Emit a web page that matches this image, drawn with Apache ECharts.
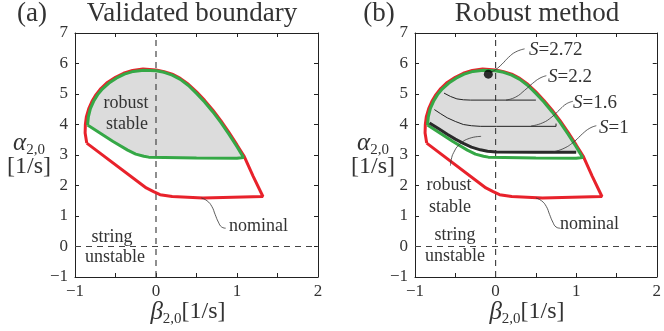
<!DOCTYPE html>
<html><head><meta charset="utf-8">
<script src="https://cdn.jsdelivr.net/npm/echarts/dist/echarts.min.js"></script>
<style>html,body{margin:0;padding:0;background:#fff}#c{width:664px;height:331px}</style>
</head><body><div id="c"></div><script>
// ---- data ----
const redX = [-0.855,-0.875,-0.872,-0.86,-0.83,-0.79,-0.74,-0.68,-0.60,-0.50,-0.40,-0.29,-0.16,0,0.1,0.2,0.3,0.4,0.5,0.6,0.7,0.8,0.9,1.0,1.09,1.2,1.32,1.30,0.58,0.2,0.05,-0.03,-0.12,-0.855];
const redY = [3.39,3.72,4.0,4.25,4.52,4.76,4.98,5.18,5.38,5.55,5.68,5.77,5.82,5.79,5.73,5.65,5.51,5.32,5.07,4.79,4.48,4.13,3.74,3.33,2.95,2.30,1.64,1.60,1.59,1.64,1.70,1.80,1.92,3.39];
const greenUpperX = [-0.845,-0.835,-0.81,-0.77,-0.72,-0.66,-0.58,-0.49,-0.39,-0.28,-0.15,0,0.1,0.2,0.3,0.4,0.5,0.6,0.7,0.8,0.9,1.0,1.08];
const greenUpperY = [3.98,4.25,4.52,4.76,4.98,5.17,5.36,5.52,5.65,5.74,5.78,5.76,5.71,5.62,5.48,5.28,5.02,4.74,4.42,4.07,3.68,3.27,2.92];
const greenLowerX = [1.0,0.5,-0.09,-0.15,-0.25,-0.35,-0.53,-0.845];
const greenLowerY = [2.89,2.90,2.93,2.96,3.03,3.16,3.44,3.98];
const s1X = [-0.82,-0.7,-0.6,-0.5,-0.4,-0.3,-0.19,-0.1,0.01,0.5,1.0];
const s1Y = [4.05,3.85,3.68,3.52,3.38,3.26,3.17,3.12,3.10,3.09,3.09];
const s16X = [-0.76,-0.68,-0.6,-0.5,-0.4,-0.3,-0.19,0.01,0.75,0.75];
const s16Y = [4.49,4.35,4.22,4.10,4.00,3.96,3.94,3.94,3.94,4.03];
const s22X = [-0.64,-0.56,-0.48,-0.4,-0.31,0.5];
const s22Y = [5.03,4.92,4.84,4.81,4.80,4.80];
const sMaxPoint = [-0.09, 5.65];
const sLabels = ['2.72','2.2','1.6','1'];
const lead272X = [-0.07,0.0,0.08,0.16,0.25,0.36], lead272Y = [5.7,5.8,5.98,6.2,6.38,6.48];
const lead22X = [0.13,0.25,0.36,0.46,0.55,0.63], lead22Y = [4.80,4.9,5.12,5.35,5.52,5.6];
const lead16X = [0.44,0.58,0.70,0.80,0.88,0.96], lead16Y = [3.95,4.05,4.25,4.5,4.68,4.76];
const lead1X = [0.71,0.85,0.98,1.08,1.17,1.25], lead1Y = [3.1,3.22,3.45,3.7,3.88,3.96];
const leadRobX = [-0.18,-0.32,-0.45,-0.52,-0.55,-0.56], leadRobY = [3.61,3.55,3.34,3.08,2.85,2.65];
const leadNomAX = [0.56,0.63,0.69,0.73,0.77,0.81,0.86], leadNomAY = [1.59,1.5,1.31,1.05,0.8,0.64,0.6];
const leadNomBX = [0.5,0.57,0.63,0.67,0.71,0.75,0.8], leadNomBY = [1.59,1.5,1.31,1.05,0.8,0.64,0.6];
const xTicks = [-1,0,1,2], yTicks = [-1,0,1,2,3,4,5,6,7];
const xRange = [-1,2], yRange = [-1,7];

// ---- helpers ----
const FONT = 'Liberation Serif';
const TXT = '#333';
const pts = (xs, ys) => xs.map((x,i)=>[x, ys[i]]);
const greenX = greenUpperX.concat(greenLowerX), greenY = greenUpperY.concat(greenLowerY);
const fillA = pts(greenX, greenY);
const fillB = pts(s1X, s1Y).concat(pts(greenUpperX, greenUpperY).reverse());
const fmt = v => (Math.abs(v - Math.round(v)) < 1e-9) ? (v < 0 ? '\u2212' + (-v) : String(v)) : '';

function xAx(g, pos){ return {type:'value', gridIndex:g, position:pos, min:xRange[0], max:xRange[1], interval:0.5,
  axisLine:{show:true,onZero:false,lineStyle:{color:'#222',width:1}},
  axisTick:{show:true,inside:true,length:4,lineStyle:{color:'#222'}}, splitLine:{show:false},
  axisLabel:{show:pos==='bottom', formatter:fmt, fontFamily:FONT, fontSize:17, color:TXT, margin:6}}; }
function yAx(g, pos){ return {type:'value', gridIndex:g, position:pos, min:yRange[0], max:yRange[1], interval:1,
  axisLine:{show:true,onZero:false,lineStyle:{color:'#222',width:1}},
  axisTick:{show:true,inside:true,length:4,lineStyle:{color:'#222'}}, splitLine:{show:false},
  axisLabel:{show:pos==='left', formatter:fmt, fontFamily:FONT, fontSize:17, color:TXT, margin:7}}; }

function line(g, data, color, width, z, extra){ return Object.assign({type:'line', xAxisIndex:2*g, yAxisIndex:2*g, data,
  symbol:'none', showSymbol:false, smooth:false, z, lineStyle:{color, width}, silent:true, animation:false}, extra||{}); }
function fill(g, poly){ return {type:'custom', xAxisIndex:2*g, yAxisIndex:2*g, data:[[0,0]], z:1, silent:true, animation:false,
  renderItem:(p, api)=>({type:'polygon', shape:{points: poly.map(q=>api.coord(q))}, style:{fill:'#dcdcdc'}})}; }

const series = [];
[0,1].forEach(g=>{
  series.push(fill(g, g===0 ? fillA : fillB));
  series.push(line(g, [[0,yRange[0]],[0,yRange[1]]], '#444', 1.2, 2, {lineStyle:{color:'#444',width:1.2,type:[6,5]}}));
  series.push(line(g, [[xRange[0],0],[xRange[1],0]], '#444', 1.2, 2, {lineStyle:{color:'#444',width:1.2,type:[6,5]}}));
  series.push(line(g, pts(redX, redY), '#e8222b', 3, 3));
  series.push(line(g, pts(greenX, greenY).concat([[greenX[0],greenY[0]]]), '#35a846', 3, 4));
  series.push(line(g, g===0 ? pts(leadNomAX, leadNomAY) : pts(leadNomBX, leadNomBY), '#333', 0.8, 5, {smooth:true}));
});
series.push(line(1, pts(s1X, s1Y), '#2a2a2a', 3, 5));
series.push(line(1, pts(s16X, s16Y), '#222', 1, 5));
series.push(line(1, pts(s22X, s22Y), '#222', 1, 5));
[[lead272X,lead272Y],[lead22X,lead22Y],[lead16X,lead16Y],[lead1X,lead1Y],[leadRobX,leadRobY]].forEach(a=>{
  series.push(line(1, pts(a[0], a[1]), '#333', 0.8, 5, {smooth:true}));
});
series.push({type:'scatter', xAxisIndex:2, yAxisIndex:2, data:[sMaxPoint], symbolSize:9, itemStyle:{color:'#000'}, z:6, silent:true, animation:false});

function T(text, x, y, size, align, extra){ return {type:'text', x, y, z:100, silent:true,
  style:Object.assign({text, fontFamily:FONT, fontSize:size, fill:TXT, align:align||'center', verticalAlign:'middle'}, extra||{})}; }
const subRich = (mainSize) => ({
  g:{fontFamily:FONT, fontStyle:'italic', fontSize:mainSize+1, fill:TXT, lineHeight:30, verticalAlign:'middle'},
  s:{fontFamily:FONT, fontSize:15, fill:TXT, lineHeight:15, verticalAlign:'bottom'},
  n:{fontFamily:FONT, fontSize:mainSize, fill:TXT, lineHeight:30, verticalAlign:'middle'}
});
const SR = {i:{fontFamily:FONT, fontStyle:'italic', fontSize:19, fill:TXT}, n:{fontFamily:FONT, fontSize:19, fill:TXT}};
const LS = 18;
const graphic = [
  T('(a)', 32, 14, 27), T('Validated boundary', 192, 14, 27),
  T('(b)', 379, 14, 27), T('Robust method', 537, 14, 27),
  T('robust', 126, 103, LS), T('stable', 127, 124, LS),
  T('string', 112, 237, LS), T('unstable', 115, 257, LS),
  T('nominal', 229, 226, LS, 'left'),
  T('robust', 449, 185, LS), T('stable', 450, 207, LS),
  T('string', 455, 235, LS), T('unstable', 455, 256, LS),
  T('nominal', 560, 224, LS, 'left'),
  T('{i|S}{n|=' + sLabels[0] + '}', 529, 50, 19, 'left', {rich:SR}),
  T('{i|S}{n|=' + sLabels[1] + '}', 548, 77, 19, 'left', {rich:SR}),
  T('{i|S}{n|=' + sLabels[2] + '}', 573, 103, 19, 'left', {rich:SR}),
  T('{i|S}{n|=' + sLabels[3] + '}', 599, 128, 19, 'left', {rich:SR}),
  T('{g|\u03b2}{s|2,0}{n|[1/s]}', 188, 312, 24, 'center', {rich:subRich(24)}),
  T('{g|\u03b2}{s|2,0}{n|[1/s]}', 527, 312, 24, 'center', {rich:subRich(24)}),
  T('{g|\u03b1}{s|2,0}', 29, 143, 24, 'center', {rich:subRich(24)}),
  T('[1/s]', 29, 167, 24),
  T('{g|\u03b1}{s|2,0}', 373, 143, 24, 'center', {rich:subRich(24)}),
  T('[1/s]', 373, 167, 24)
];

const chart = echarts.init(document.getElementById('c'), null, {renderer:'canvas'});
chart.setOption({
  animation:false, backgroundColor:'#fff',
  grid:[{left:75, top:33, width:243, height:244}, {left:415, top:33, width:242, height:244}],
  xAxis:[xAx(0,'bottom'), xAx(0,'top'), xAx(1,'bottom'), xAx(1,'top')],
  yAxis:[yAx(0,'left'), yAx(0,'right'), yAx(1,'left'), yAx(1,'right')],
  series, graphic
});
</script></body></html>
